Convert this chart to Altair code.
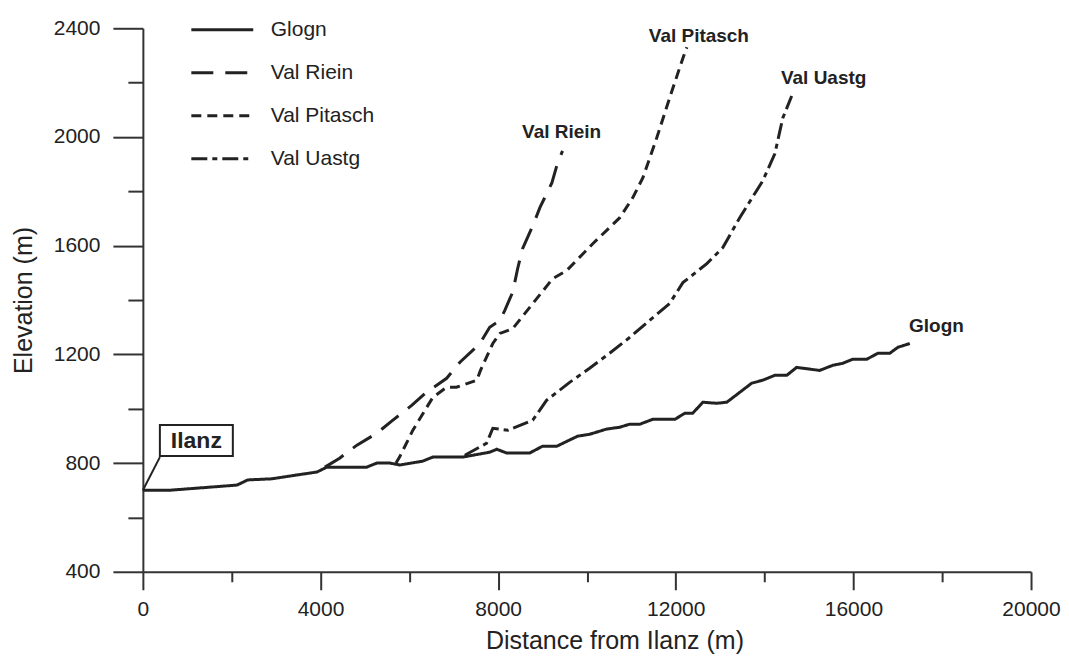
import altair as alt
import pandas as pd

# ---------------- data ----------------
series_order = ["Glogn", "Val Riein", "Val Pitasch", "Val Uastg"]

glogn_d = [0, 600, 2120, 2360, 2900, 3500, 3920, 4140, 5040, 5270, 5560, 5790, 6300, 6530,
           7200, 7810, 7970, 8190, 8710, 9000, 9320, 9790, 10060, 10440, 10740, 10960,
           11190, 11480, 11980, 12200, 12380, 12610, 12920, 13150, 13710, 13960, 14230,
           14500, 14720, 15240, 15540, 15760, 15980, 16300, 16550, 16820, 17000, 17270]
glogn_e = [700, 700, 719, 738, 742, 757, 767, 785, 785, 800, 800, 793, 807, 822,
           822, 840, 851, 837, 837, 862, 862, 899, 906, 925, 932, 943,
           943, 961, 961, 983, 983, 1024, 1020, 1024, 1094, 1105, 1123,
           1123, 1152, 1141, 1160, 1167, 1182, 1182, 1204, 1204, 1226, 1240]

riein_d = [4100, 4430, 4820, 5270, 5630, 6060, 6390, 6840, 7140, 7590, 7810, 8040,
           8150, 8330, 8440, 8550, 8780, 8940, 9210, 9320, 9450]
riein_e = [785, 818, 866, 910, 958, 1013, 1061, 1112, 1171, 1240, 1300, 1325,
           1362, 1430, 1516, 1589, 1673, 1740, 1831, 1894, 1949]

pitasch_d = [5700, 5780, 6080, 6530, 6840, 7060, 7520, 7600, 7880, 8040, 8330, 8780,
             9230, 9540, 10130, 10740, 11030, 11260, 11570, 11860, 12160, 12250]
pitasch_e = [800, 822, 921, 1042, 1079, 1079, 1105, 1140, 1240, 1277, 1295, 1387,
             1479, 1508, 1607, 1703, 1776, 1850, 1996, 2143, 2290, 2330]

uastg_d = [7250, 7740, 7880, 8220, 8780, 9090, 9610, 10060, 10510, 10960, 11410, 11860,
           12160, 12700, 13060, 13440, 13960, 14230, 14410, 14610]
uastg_e = [829, 873, 928, 921, 958, 1031, 1097, 1149, 1204, 1262, 1325, 1387,
           1464, 1534, 1593, 1703, 1839, 1938, 2070, 2151]

# end-of-line labels
label_text = ["Val Riein", "Val Pitasch", "Val Uastg", "Glogn"]
label_d = [9430, 12520, 15330, 17870]
label_e = [2018, 2371, 2217, 1306]

# "Ilanz" call-out
ilanz_text = ["Ilanz"]
ilanz_box_d = [383, 2026]
ilanz_box_e = [826, 940]
ilanz_leader_d = [0, 383]
ilanz_leader_e = [700, 822]

x_ticks = list(range(0, 20001, 2000))
y_ticks = list(range(400, 2401, 200))

# ---------------- tables ----------------
rows = []
for name, ds, es in [("Glogn", glogn_d, glogn_e), ("Val Riein", riein_d, riein_e),
                     ("Val Pitasch", pitasch_d, pitasch_e), ("Val Uastg", uastg_d, uastg_e)]:
    for i, (d, e) in enumerate(zip(ds, es)):
        rows.append({"series": name, "dist": d, "elev": e, "order": i})
profiles = pd.DataFrame(rows)
labels = pd.DataFrame({"text": label_text, "dist": label_d, "elev": label_e})
box = pd.DataFrame({"d1": [ilanz_box_d[0]], "d2": [ilanz_box_d[1]],
                    "e1": [ilanz_box_e[0]], "e2": [ilanz_box_e[1]], "text": ilanz_text,
                    "dc": [sum(ilanz_box_d) / 2], "ec": [sum(ilanz_box_e) / 2]})
leader = pd.DataFrame({"dist": ilanz_leader_d, "elev": ilanz_leader_e, "order": [0, 1]})

FONT = "Liberation Sans"
INK = "#222222"

x_scale = alt.Scale(domain=[0, 20000], nice=False, zero=False)
y_scale = alt.Scale(domain=[400, 2400], nice=False, zero=False)

x_axis = alt.Axis(
    values=x_ticks, format="d", labelFlush=False,
    labelExpr="datum.value % 4000 === 0 ? datum.label : ''",
    tickSize={"condition": {"test": "datum.value % 4000 === 0", "value": 18}, "value": 10},
    tickWidth=2, domainWidth=2, tickColor="#333", domainColor="#333",
    labelFont=FONT, labelFontSize=21, labelColor=INK, labelPadding=9,
    title="Distance from Ilanz (m)", titleFont=FONT, titleFontSize=25,
    titleFontWeight="normal", titleColor=INK, titlePadding=9, titleX=472,
    grid=False,
)
y_axis = alt.Axis(
    values=y_ticks, format="d", labelFlush=False,
    labelExpr="datum.value % 400 === 0 ? datum.label : ''",
    tickSize={"condition": {"test": "datum.value % 400 === 0", "value": 30}, "value": 15},
    tickWidth=2, domainWidth=2, tickColor="#333", domainColor="#333",
    labelFont=FONT, labelFontSize=21, labelColor=INK, labelPadding=13,
    title="Elevation (m)", titleFont=FONT, titleFontSize=25,
    titleFontWeight="normal", titleColor=INK, titlePadding=17,
    grid=False,
)

lines = alt.Chart(profiles).mark_line(strokeWidth=3, color=INK, strokeCap="butt").encode(
    x=alt.X("dist:Q", scale=x_scale, axis=x_axis),
    y=alt.Y("elev:Q", scale=y_scale, axis=y_axis),
    order="order:Q",
    strokeDash=alt.StrokeDash(
        "series:N",
        scale=alt.Scale(domain=series_order,
                        range=[[1, 0], [22, 12], [10, 6], [16, 5, 5, 5]]),
        legend=alt.Legend(
            title=None, orient="none", legendX=47, legendY=-31,
            symbolType="stroke", symbolSize=3844, symbolStrokeWidth=3,
            symbolStrokeColor=INK, labelFont=FONT, labelFontSize=21,
            labelColor=INK, labelOffset=16, rowPadding=-21, padding=0,
        ),
    ),
)

text = alt.Chart(labels).mark_text(font=FONT, fontSize=19, fontWeight="bold",
                                   color=INK).encode(
    x="dist:Q", y="elev:Q", text="text:N")

rect = alt.Chart(box).mark_rect(fill="white", stroke=INK, strokeWidth=2).encode(
    x="d1:Q", x2="d2", y="e1:Q", y2="e2")
rect_text = alt.Chart(box).mark_text(font=FONT, fontSize=23, fontWeight="bold",
                                     color=INK).encode(x="dc:Q", y="ec:Q", text="text:N")
lead = alt.Chart(leader).mark_line(strokeWidth=2, color=INK).encode(
    x="dist:Q", y="elev:Q", order="order:Q")

chart = alt.layer(lines, lead, rect, rect_text, text).properties(
    width=889, height=544,
    autosize=alt.AutoSizeParams(type="none"),
    padding={"left": 135, "top": 20, "right": 30, "bottom": 82},
    background="white",
).configure_view(stroke=None)

chart.save("out.html", embed_options={"renderer": "svg", "actions": False})
